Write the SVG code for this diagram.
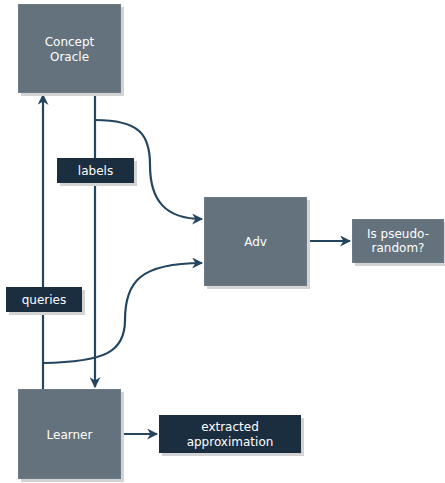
<svg xmlns="http://www.w3.org/2000/svg" width="445" height="483" viewBox="0 0 445 483">
  <defs>
    <marker id="arrow" viewBox="0 0 10 10" refX="9" refY="5" markerWidth="5" markerHeight="5" orient="auto-start-reverse" markerUnits="strokeWidth">
      <path d="M0,0 L10,5 L0,10 L3,5 Z" fill="#244560"/>
    </marker>
    <style>
      .shadow { fill: #d3d3d3; }
      .box { fill: #64727d; stroke: #6e7b86; stroke-width: 1; }
      .tag { fill: #1b2e40; }
      .txt { font-family: "DejaVu Sans", Verdana, sans-serif; font-size: 12px; fill: #ffffff; text-anchor: middle; }
      .edge { fill: none; stroke: #244560; stroke-width: 2.2; }
    </style>
  </defs>
  <rect width="445" height="483" fill="#ffffff"/>

  <g id="connectors">
    <line class="edge" x1="43" y1="389" x2="43" y2="95" marker-end="url(#arrow)"/>
    <line class="edge" x1="95" y1="93" x2="95" y2="387" marker-end="url(#arrow)"/>
    <path class="edge" d="M95,120 C140,120 150,135 150,165 C150,200 165,219 202,219" marker-end="url(#arrow)"/>
    <path class="edge" d="M43,363 C105,362 125,352 125,320 C125,282 140,263 202,263" marker-end="url(#arrow)"/>
    <line class="edge" x1="121" y1="434" x2="157" y2="434" marker-end="url(#arrow)"/>
    <line class="edge" x1="307" y1="241" x2="350" y2="241" marker-end="url(#arrow)"/>
  </g>

  <g id="concept-oracle">
    <rect class="shadow" x="21" y="7" width="103" height="89"/>
    <rect class="box" x="18.5" y="4.5" width="102" height="88"/>
    <text class="txt" x="69.5" y="46">Concept</text>
    <text class="txt" x="69.5" y="61">Oracle</text>
  </g>

  <g id="learner">
    <rect class="shadow" x="21" y="392" width="103" height="90"/>
    <rect class="box" x="18.5" y="389.5" width="102" height="89"/>
    <text class="txt" x="69.5" y="439">Learner</text>
  </g>

  <g id="adv">
    <rect class="shadow" x="207" y="200" width="103" height="89"/>
    <rect class="box" x="204.5" y="197.5" width="102" height="88"/>
    <text class="txt" x="255.5" y="246">Adv</text>
  </g>

  <g id="is-pseudo-random">
    <rect class="shadow" x="355" y="222" width="92" height="44"/>
    <rect class="box" x="352.5" y="219.5" width="91" height="43"/>
    <text class="txt" x="398" y="238">Is pseudo-</text>
    <text class="txt" x="398" y="252">random?</text>
  </g>

  <g id="extracted-approximation">
    <rect class="shadow" x="162" y="418" width="142" height="38"/>
    <rect class="tag" x="159" y="415" width="142" height="38"/>
    <text class="txt" x="230" y="431">extracted</text>
    <text class="txt" x="230" y="446">approximation</text>
  </g>

  <g id="labels">
    <rect class="shadow" x="60" y="161" width="77" height="25"/>
    <rect class="tag" x="57" y="158" width="77" height="25"/>
    <text class="txt" x="95.5" y="175">labels</text>
  </g>

  <g id="queries">
    <rect class="shadow" x="9" y="290" width="76" height="25"/>
    <rect class="tag" x="6" y="287" width="76" height="25"/>
    <text class="txt" x="44" y="304">queries</text>
  </g>
</svg>
